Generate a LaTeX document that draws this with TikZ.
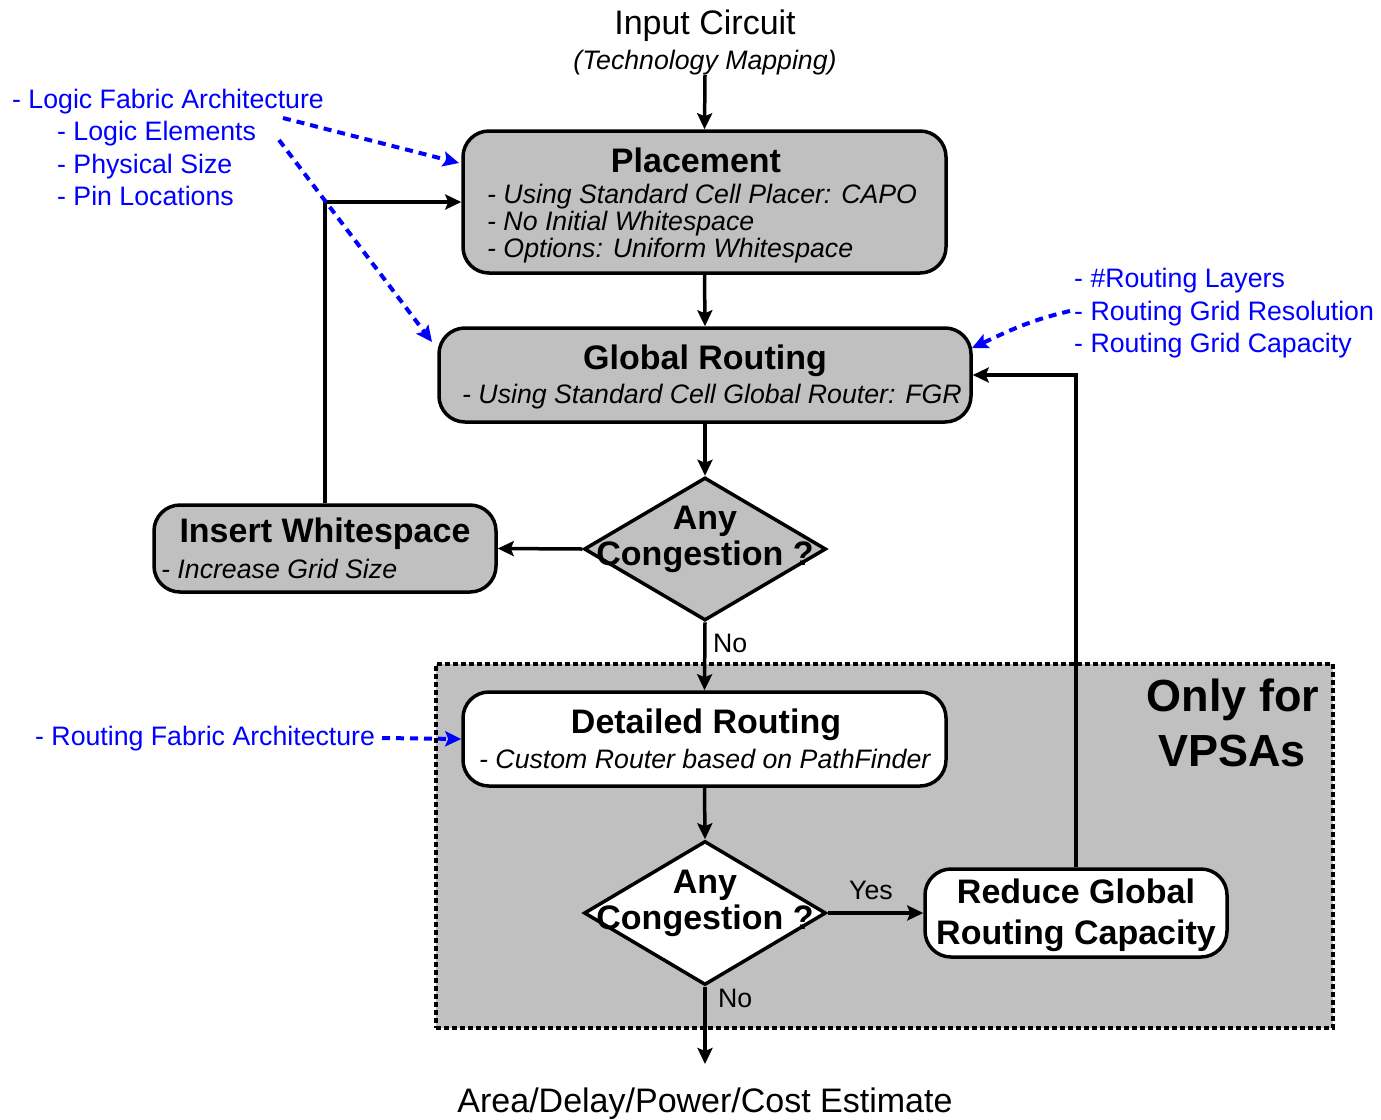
\documentclass[tikz,border=0pt]{standalone}
\usepackage{fontspec}
\setmainfont{Liberation Sans}
\usetikzlibrary{arrows.meta,shapes.geometric}

\definecolor{boxgray}{RGB}{192,192,192}
\definecolor{noteblue}{RGB}{0,0,255}

\tikzset{
  big/.style={font=\fontsize{34}{40}\selectfont},
  bigbold/.style={font=\fontsize{34}{40}\selectfont\bfseries},
  sub/.style={font=\fontsize{26.7}{32}\selectfont\itshape},
  small/.style={font=\fontsize{26.7}{32}\selectfont},
  note/.style={font=\fontsize{26.7}{32}\selectfont, text=noteblue},
  stepbox/.style={draw=black, line width=3.5pt, rounded corners=26pt, inner sep=0pt},
  decision/.style={draw=black, line width=3.5pt, diamond, inner sep=0pt},
  arr/.style={draw=black, line width=3.5pt, -{Stealth[length=16pt,width=15pt,inset=3pt]}},
  notearr/.style={draw=noteblue, line width=4pt, dash pattern=on 8pt off 6pt,
    -{Stealth[length=16pt,width=15pt,inset=3pt]}},
  txt/.style={anchor=base, inner sep=0pt},
  txtl/.style={anchor=base west, inner sep=0pt},
}

\begin{document}
\begin{tikzpicture}[x=1pt,y=-1pt]
\useasboundingbox (0,0) rectangle (1381,1119);

% region used only by VPSAs
\node (vpsa) [draw=black, fill=boxgray, line width=3.5pt, dash pattern=on 5pt off 3pt,
  minimum width=897pt, minimum height=364pt, inner sep=0pt] at (884.5,846) {};
\node[txt, font=\fontsize{45}{52}\selectfont\bfseries] (vpsa1) at (1233,711) {Only for};
\node[txt, font=\fontsize{45}{52}\selectfont\bfseries] (vpsa2) at (1232,766) {VPSAs};

% input and output
\node[txt, big] (inp) at (705,34) {Input Circuit};
\node[txt, sub] (tmap) at (705,69) {(Technology Mapping)};
\node[txt, big] (outp) at (705,1112) {Area/Delay/Power/Cost Estimate};
\coordinate (inpend) at (705,75);
\coordinate (outend) at (705,1064);

% process boxes
\node[stepbox, fill=boxgray, minimum width=483pt, minimum height=142pt] (place) at (704.5,202) {};
\node[txt, bigbold] at (696,172) {Placement};
\node[txtl, sub] at (487,203) {- Using Standard Cell Placer: CAPO};
\node[txtl, sub] at (487,230) {- No Initial Whitespace};
\node[txtl, sub] at (487,257) {- Options: Uniform Whitespace};

\node[stepbox, fill=boxgray, minimum width=532pt, minimum height=94pt] (glob) at (705,375) {};
\node[txt, bigbold] at (705,369) {Global Routing};
\node[txtl, sub] at (462,403) {- Using Standard Cell Global Router: FGR};

\node[stepbox, fill=boxgray, minimum width=342pt, minimum height=87pt] (ins) at (325,548.5) {};
\node[txt, bigbold] at (325,542) {Insert Whitespace};
\node[txtl, sub] at (161,578) {- Increase Grid Size};

\node[stepbox, fill=white, minimum width=483pt, minimum height=94pt] (det) at (704.5,739) {};
\node[txt, bigbold] at (706,733) {Detailed Routing};
\node[txtl, sub] at (479,768) {- Custom Router based on PathFinder};

\node[stepbox, fill=white, minimum width=302pt, minimum height=88pt] (red) at (1076,913) {};
\node[txt, bigbold] at (1076,903) {Reduce Global};
\node[txt, bigbold] at (1076,944) {Routing Capacity};

% decisions
\node[decision, fill=boxgray, minimum width=242pt, minimum height=143pt] (cong1) at (705,549) {};
\node[txt, bigbold] at (705,529) {Any};
\node[txt, bigbold] at (705,565) {Congestion ?};

\node[decision, fill=white, minimum width=242pt, minimum height=144pt] (cong2) at (705,913) {};
\node[txt, bigbold] at (705,893) {Any};
\node[txt, bigbold] at (705,929) {Congestion ?};

% flow
\draw[arr] (inpend) -- (place.north);
\draw[arr] (place.south) -- (glob.north);
\draw[arr] (glob.south) -- (cong1.north);
\draw[arr] (cong1.west) -- (ins.east);
\draw[arr] (ins.north) |- (place.west);
\draw[arr] (cong1.south) -- (det.north);
\draw[arr] (det.south) -- (cong2.north);
\draw[arr] (cong2.east) -- (red.west);
\draw[arr] (red.north) |- (glob.east);
\draw[arr] (cong2.south) -- (outend);

% branch labels
\node[txtl, small] (no1) at (713,652) {No};
\node[txt, small] (yes) at (871,899) {Yes};
\node[txtl, small] (no2) at (718,1007) {No};

% architecture parameters
\node[txtl, note] (lfa) at (12,108) {- Logic Fabric Architecture};
\node[txtl, note] (le) at (57,140) {- Logic Elements};
\node[txtl, note] (ps) at (57,173) {- Physical Size};
\node[txtl, note] (pl) at (57,205) {- Pin Locations};
\coordinate (lfa1) at (283,118);
\coordinate (lfa2) at (279,140);
\coordinate (placein) at (459,163);
\coordinate (globin) at (432,342);
\draw[notearr] (lfa1) -- (placein);
\draw[notearr] (lfa2) -- (globin);

\node[txtl, note] (rl) at (1074,287) {- \#Routing Layers};
\node[txtl, note] (rgr) at (1074,320) {- Routing Grid Resolution};
\node[txtl, note] (rgc) at (1074,352) {- Routing Grid Capacity};
\coordinate (rgrstart) at (1070,311);
\coordinate (globne) at (972,348);
\draw[notearr] (rgrstart) to[out=193,in=25] (globne);

\node[txtl, note] (rfa) at (35,745) {- Routing Fabric Architecture};
\coordinate (rfaend) at (382,738);
\draw[notearr] (rfaend) -- (det.west);
\end{tikzpicture}
\end{document}
